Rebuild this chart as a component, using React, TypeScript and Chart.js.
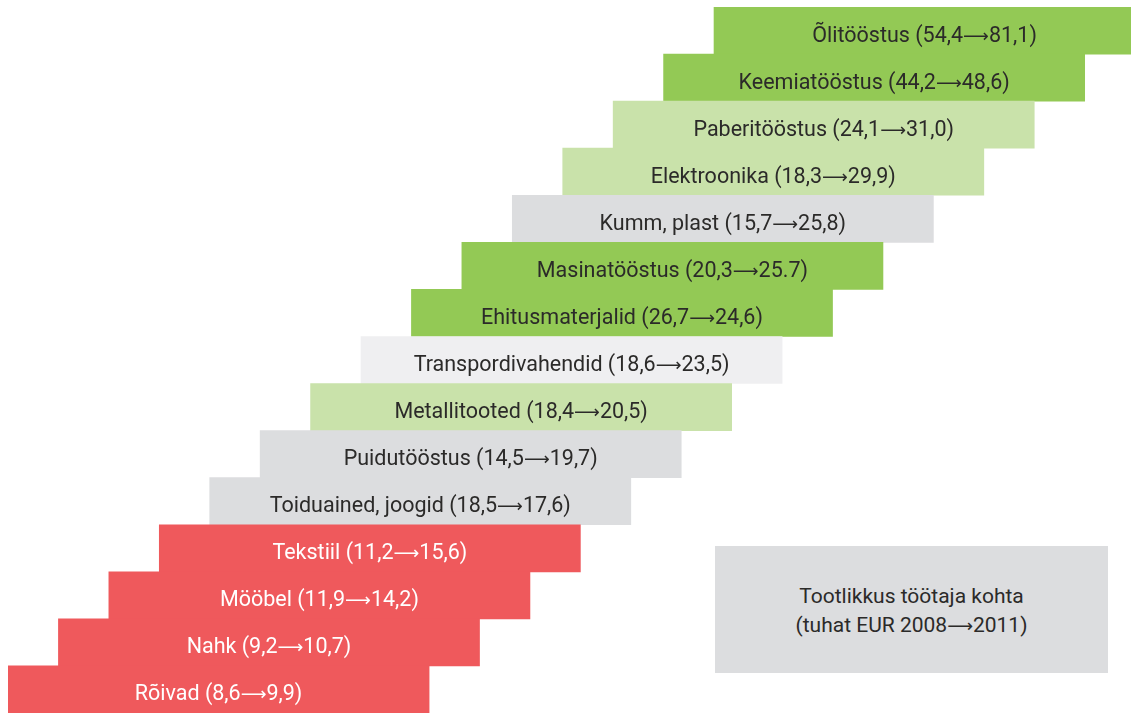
import React, { useEffect, useRef } from 'react';
import { Chart, registerables } from 'chart.js';

Chart.register(...registerables);

// Industries, from the top step to the bottom step
const industries = [
  'Õlitööstus',
  'Keemiatööstus',
  'Paberitööstus',
  'Elektroonika',
  'Kumm, plast',
  'Masinatööstus',
  'Ehitusmaterjalid',
  'Transpordivahendid',
  'Metallitooted',
  'Puidutööstus',
  'Toiduained, joogid',
  'Tekstiil',
  'Mööbel',
  'Nahk',
  'Rõivad',
];

// Productivity per employee, thousand EUR (as printed)
const values2008 = ['54,4', '44,2', '24,1', '18,3', '15,7', '20,3', '26,7', '18,6', '18,4', '14,5', '18,5', '11,2', '11,9', '9,2', '8,6'];
const values2011 = ['81,1', '48,6', '31,0', '29,9', '25,8', '25.7', '24,6', '23,5', '20,5', '19,7', '17,6', '15,6', '14,2', '10,7', '9,9'];

// Colour group of each step
const groups = ['dark', 'dark', 'light', 'light', 'gray', 'dark', 'dark', 'pale', 'light', 'gray', 'gray', 'red', 'red', 'red', 'red'];

const legendLine1 = 'Tootlikkus töötaja kohta';
const legendLine2a = '(tuhat EUR 2008';
const legendLine2b = '2011)';

const COLORS: Record<string, string> = {
  dark: '#93C955',
  light: '#C9E2AA',
  gray: '#DCDDDF',
  pale: '#EFEFF1',
  red: '#EF595C',
};
const TEXT_COLORS: Record<string, string> = {
  dark: '#2B2A29',
  light: '#2B2A29',
  gray: '#2B2A29',
  pale: '#2B2A29',
  red: '#FFFFFF',
};

const STEP_SPAN = 8.35; // bar length in step units
const FONT = 'Roboto, "Open Sans", sans-serif';
const ARROW_FONT = '"DejaVu Sans", sans-serif';
const ARROW = '⟶';

function drawSegments(ctx: any, parts: { t: string; f: string }[], cx: number, y: number) {
  const widths = parts.map((p) => {
    ctx.font = p.f;
    return ctx.measureText(p.t).width;
  });
  const total = widths.reduce((a, b) => a + b, 0);
  let x = cx - total / 2;
  parts.forEach((p, k) => {
    ctx.font = p.f;
    ctx.fillText(p.t, x, y);
    x += widths[k];
  });
}

const labelPlugin = {
  id: 'stepLabels',
  afterDatasetsDraw(chart: any) {
    const ctx = chart.ctx;
    const meta = chart.getDatasetMeta(0);
    ctx.save();
    ctx.textAlign = 'left';
    ctx.textBaseline = 'alphabetic';
    const f = `21.5px ${FONT}`;
    const af = `18px ${ARROW_FONT}`;
    meta.data.forEach((bar: any, i: number) => {
      const cx = (bar.x + bar.base) / 2;
      ctx.fillStyle = TEXT_COLORS[groups[i]];
      drawSegments(
        ctx,
        [
          { t: `${industries[i]} (${values2008[i]}`, f },
          { t: ARROW, f: af },
          { t: `${values2011[i]})`, f },
        ],
        cx,
        bar.y + 11
      );
    });
    ctx.restore();
  },
};

export default function App() {
  const ref = useRef<HTMLCanvasElement | null>(null);

  useEffect(() => {
    if (!ref.current) return;
    const n = industries.length;
    const chart = new Chart(ref.current, {
      type: 'bar',
      data: {
        labels: industries,
        datasets: [
          {
            data: industries.map((_, i) => [n - 1 - i, n - 1 - i + STEP_SPAN]) as any,
            backgroundColor: groups.map((g) => COLORS[g]),
            borderWidth: 0,
            barPercentage: 1,
            categoryPercentage: 1,
          },
        ],
      },
      options: {
        indexAxis: 'y',
        responsive: false,
        animation: false,
        layout: { padding: { left: 8, top: 7, right: 0, bottom: 0 } },
        plugins: { legend: { display: false }, tooltip: { enabled: false } },
        scales: {
          x: { display: false, min: 0, max: 1123 / 50.43 },
          y: { display: false },
        },
      },
      plugins: [labelPlugin],
    });
    return () => chart.destroy();
  }, []);

  return (
    <div style={{ position: 'absolute', left: 0, top: 0, width: 1131, height: 713, background: '#fff' }}>
      <canvas ref={ref} width={1131} height={713} style={{ display: 'block' }} />
      <div
        style={{
          position: 'absolute',
          left: 715,
          top: 546,
          width: 393,
          height: 127,
          background: '#DCDDDF',
          display: 'flex',
          flexDirection: 'column',
          justifyContent: 'center',
          alignItems: 'center',
          fontFamily: FONT,
          fontSize: 21,
          lineHeight: '29px',
          color: '#2B2A29',
          paddingTop: 2,
          boxSizing: 'border-box',
        }}
      >
        <div>{legendLine1}</div>
        <div>
          {legendLine2a}
          <span style={{ fontFamily: ARROW_FONT, fontSize: 18 }}>{ARROW}</span>
          {legendLine2b}
        </div>
      </div>
    </div>
  );
}
